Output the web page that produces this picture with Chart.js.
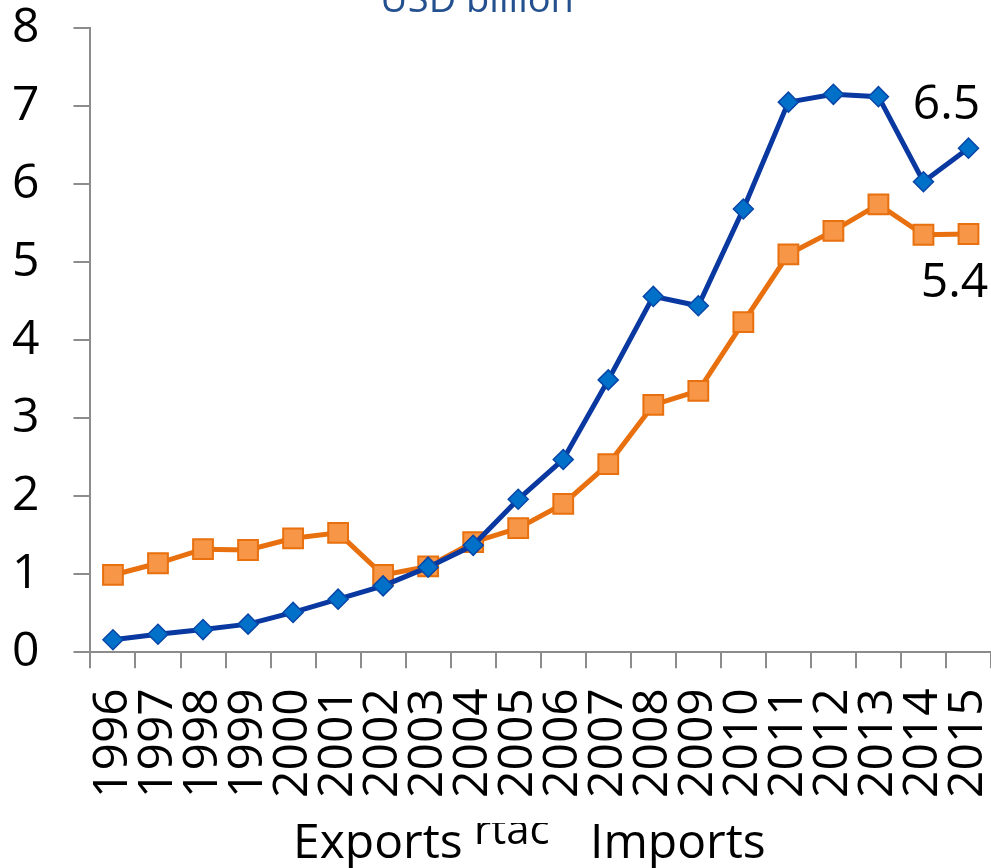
<!DOCTYPE html>
<html>
<head>
<meta charset="utf-8">
<script src="https://cdn.jsdelivr.net/npm/chart.js@4.4.1/dist/chart.umd.min.js"></script>
<style>
  html, body { margin: 0; padding: 0; background: #fff; overflow: hidden; }
  #wrap { width: 991px; height: 868px; }
  canvas { display: block; }
</style>
</head>
<body>
<div id="wrap"><canvas id="lineChart"></canvas></div>
<script>
const years = ["1996","1997","1998","1999","2000","2001","2002","2003","2004","2005",
               "2006","2007","2008","2009","2010","2011","2012","2013","2014","2015"];
const exportsData = [0.16, 0.23, 0.29, 0.36, 0.51, 0.68, 0.85, 1.09, 1.37, 1.96,
                     2.47, 3.49, 4.56, 4.44, 5.68, 7.05, 7.15, 7.12, 6.03, 6.46];
const importsData = [0.99, 1.14, 1.32, 1.31, 1.46, 1.53, 0.99, 1.10, 1.41, 1.59,
                     1.90, 2.41, 3.17, 3.35, 4.23, 5.10, 5.40, 5.74, 5.35, 5.36];
const yTicks = [0, 1, 2, 3, 4, 5, 6, 7, 8];
const unitTitle = "USD billion";
const hiddenLegendBit = "rtac";

const FONT = "'Open Sans', sans-serif";

// title cut off at the top, last-point values, and the bottom legend text
const extras = {
  id: "extras",
  afterDraw(chart) {
    const ctx = chart.ctx;
    ctx.save();
    ctx.fillStyle = "#24508F";
    ctx.font = "38px " + FONT;
    ctx.textAlign = "center";
    ctx.textBaseline = "alphabetic";
    ctx.fillText(unitTitle, 477, 12);

    ctx.fillStyle = "#000";
    ctx.font = "48px " + FONT;
    const expPt = chart.getDatasetMeta(0).data[exportsData.length - 1];
    const impPt = chart.getDatasetMeta(1).data[importsData.length - 1];
    ctx.textBaseline = "middle";
    ctx.fillText(exportsData[exportsData.length - 1].toFixed(1), expPt.x - 22, expPt.y - 43);
    ctx.fillText(importsData[importsData.length - 1].toFixed(1), impPt.x - 14, impPt.y + 49);

    ctx.textAlign = "left";
    ctx.textBaseline = "alphabetic";
    ctx.fillText(chart.data.datasets[0].label, 293, 858);
    ctx.fillText(chart.data.datasets[1].label, 590, 858);
    // fragment of a third label, half hidden behind "Imports"
    ctx.beginPath();
    ctx.rect(466, 823, 116, 40);
    ctx.clip();
    ctx.font = "42px " + FONT;
    ctx.fillText(hiddenLegendBit, 474, 844);
    ctx.restore();
  }
};

new Chart(document.getElementById("lineChart"), {
  type: "line",
  data: {
    labels: years,
    datasets: [
      {
        label: "Exports",
        data: exportsData,
        borderColor: "#0838A0",
        borderWidth: 5,
        pointStyle: "rectRot",
        pointRadius: 10,
        pointBackgroundColor: "#0070C8",
        pointBorderColor: "#0846A8",
        pointBorderWidth: 1.5,
        tension: 0
      },
      {
        label: "Imports",
        data: importsData,
        borderColor: "#E8700E",
        borderWidth: 5,
        pointStyle: "rect",
        pointRadius: 14,
        pointBackgroundColor: "#F79646",
        pointBorderColor: "#E8700E",
        pointBorderWidth: 2,
        tension: 0
      }
    ]
  },
  options: {
    responsive: true,
    maintainAspectRatio: false,
    animation: false,
    layout: { autoPadding: false, padding: { top: 28, left: -22, right: 0, bottom: 50 } },
    plugins: {
      legend: { display: false },
      tooltip: { enabled: false }
    },
    scales: {
      x: {
        offset: true,
        afterFit(scale) { scale.paddingLeft = 0; scale.paddingRight = 0; },
        grid: { display: true, drawOnChartArea: false, offset: true, tickLength: 16, color: "#8C8C8C", lineWidth: 2 },
        border: { color: "#8C8C8C", width: 2 },
        ticks: {
          color: "#000",
          font: { family: FONT, size: 48 },
          minRotation: 90,
          maxRotation: 90,
          padding: 20,
          autoSkip: false
        }
      },
      y: {
        min: 0,
        max: 8,
        afterBuildTicks(scale) { scale.ticks = yTicks.map(v => ({ value: v })); },
        afterFit(scale) { scale.paddingTop = 0; scale.paddingBottom = 0; },
        grid: { display: true, drawOnChartArea: false, tickLength: 17, color: "#8C8C8C", lineWidth: 2 },
        border: { color: "#8C8C8C", width: 2 },
        ticks: {
          color: "#000",
          font: { family: FONT, size: 48 },
          padding: 34
        }
      }
    }
  },
  plugins: [extras]
});
</script>
</body>
</html>
